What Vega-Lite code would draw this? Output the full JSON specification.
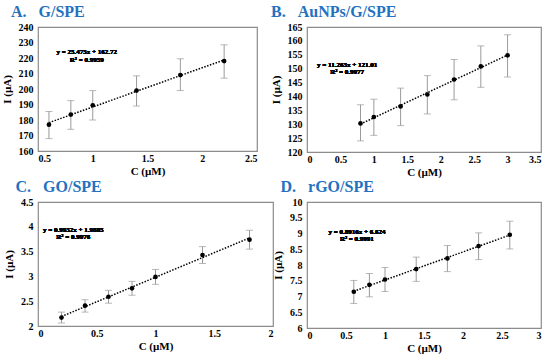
{
  "$schema": "https://vega.github.io/schema/vega-lite/v6.json",
  "background": "white",
  "padding": {"left": 0, "top": 3, "right": 4, "bottom": 2},
  "datasets": {
    "a": [
      {"x": 0.6, "y": 177, "lo": 168, "hi": 185.5},
      {"x": 0.8, "y": 183.5, "lo": 174, "hi": 192.5},
      {"x": 1.0, "y": 189.5, "lo": 180, "hi": 199},
      {"x": 1.4, "y": 199, "lo": 189, "hi": 208.5},
      {"x": 1.8, "y": 209, "lo": 199, "hi": 219.5},
      {"x": 2.2, "y": 218, "lo": 207, "hi": 228.5}
    ],
    "b": [
      {"x": 0.8, "y": 130.3, "lo": 124, "hi": 137},
      {"x": 1.0, "y": 132.6, "lo": 126, "hi": 139},
      {"x": 1.4, "y": 136.4, "lo": 129.5, "hi": 143},
      {"x": 1.8, "y": 140.7, "lo": 133.7, "hi": 147.5},
      {"x": 2.2, "y": 146.1, "lo": 138.8, "hi": 153.3},
      {"x": 2.6, "y": 150.8, "lo": 143.3, "hi": 158.2},
      {"x": 3.0, "y": 154.8, "lo": 147, "hi": 162.2}
    ],
    "c": [
      {"x": 0.2, "y": 2.17, "lo": 2.06, "hi": 2.28},
      {"x": 0.4, "y": 2.41, "lo": 2.28, "hi": 2.53},
      {"x": 0.6, "y": 2.59, "lo": 2.46, "hi": 2.72},
      {"x": 0.8, "y": 2.76, "lo": 2.62, "hi": 2.9},
      {"x": 1.0, "y": 2.99, "lo": 2.84, "hi": 3.14},
      {"x": 1.4, "y": 3.43, "lo": 3.26, "hi": 3.6},
      {"x": 1.8, "y": 3.74, "lo": 3.55, "hi": 3.93}
    ],
    "d": [
      {"x": 0.6, "y": 7.15, "lo": 6.78, "hi": 7.51},
      {"x": 0.8, "y": 7.37, "lo": 6.99, "hi": 7.73},
      {"x": 1.0, "y": 7.54, "lo": 7.16, "hi": 7.92},
      {"x": 1.4, "y": 7.87, "lo": 7.48, "hi": 8.25},
      {"x": 1.8, "y": 8.21, "lo": 7.79, "hi": 8.62},
      {"x": 2.2, "y": 8.6, "lo": 8.17, "hi": 9.02},
      {"x": 2.6, "y": 8.96, "lo": 8.51, "hi": 9.39}
    ]
  },
  "config": {
    "view": {"stroke": "#8c8c8c", "strokeWidth": 1.2},
    "font": "'Liberation Serif', serif",
    "text": {"font": "'Liberation Serif', serif"},
    "axis": {
      "grid": false, "ticks": false, "domain": false, "format": "~f",
      "labelFont": "'Liberation Serif', serif", "labelFontWeight": "bold", "labelFontSize": 10, "labelColor": "black",
      "titleFont": "'Liberation Serif', serif", "titleFontWeight": "bold", "titleFontSize": 11, "titleColor": "black"
    },
    "axisY": {"titlePadding": 6, "labelPadding": 5},
    "axisX": {"titlePadding": 2, "labelPadding": 2},
    "title": {"font": "'Liberation Serif', serif", "fontSize": 16, "fontWeight": "bold", "color": "#2471c0", "anchor": "start", "offset": 2}
  },
  "spacing": 0,
  "vconcat": [
    {
      "spacing": 50,
      "bounds": "flush",
      "hconcat": [
        {
          "width": 219, "height": 124,
          "title": {"text": "A.\u00a0\u00a0\u00a0G/SPE", "dx": 10},
          "data": {"name": "a"},
          "encoding": {
            "x": {"field": "x", "type": "quantitative", "title": "C (µM)", "scale": {"domain": [0.5, 2.5], "nice": false, "zero": false}, "axis": {"values": [0.5, 1, 1.5, 2, 2.5]}},
            "y": {"field": "y", "type": "quantitative", "title": "I (µA)", "scale": {"domain": [160, 240], "nice": false, "zero": false}, "axis": {"values": [160, 170, 180, 190, 200, 210, 220, 230, 240]}}
          },
          "layer": [
            {"transform": [{"regression": "y", "on": "x"}], "mark": {"type": "line", "color": "black", "strokeDash": [1.5, 1.5], "strokeWidth": 1.5}},
            {"mark": {"type": "errorbar", "color": "#9a9a9a", "ticks": {"size": 7, "color": "#9a9a9a"}}, "encoding": {"y": {"field": "lo", "type": "quantitative"}, "y2": {"field": "hi"}}},
            {"mark": {"type": "point", "filled": true, "color": "black", "size": 22, "opacity": 1}},
            {"mark": {"type": "text", "fontWeight": "bold", "fontSize": 7, "lineBreak": "\n", "align": "center", "baseline": "middle", "lineHeight": 7.5}, "encoding": {"x": {"datum": 0.945}, "y": {"datum": 223.7}, "text": {"value": "y = 25.475x + 162.72\nR² = 0.9959"}}}
          ]
        },
        {
          "width": 234, "height": 125,
          "title": {"text": "B.\u00a0\u00a0\u00a0AuNPs/G/SPE", "dx": 1},
          "data": {"name": "b"},
          "encoding": {
            "x": {"field": "x", "type": "quantitative", "title": "C (µM)", "scale": {"domain": [0, 3.5], "nice": false, "zero": false}, "axis": {"values": [0, 0.5, 1, 1.5, 2, 2.5, 3, 3.5]}},
            "y": {"field": "y", "type": "quantitative", "title": "I (µA)", "scale": {"domain": [120, 165], "nice": false, "zero": false}, "axis": {"values": [120, 125, 130, 135, 140, 145, 150, 155, 160, 165]}}
          },
          "layer": [
            {"transform": [{"regression": "y", "on": "x"}], "mark": {"type": "line", "color": "black", "strokeDash": [1.5, 1.5], "strokeWidth": 1.5}},
            {"mark": {"type": "errorbar", "color": "#9a9a9a", "ticks": {"size": 7, "color": "#9a9a9a"}}, "encoding": {"y": {"field": "lo", "type": "quantitative"}, "y2": {"field": "hi"}}},
            {"mark": {"type": "point", "filled": true, "color": "black", "size": 22, "opacity": 1}},
            {"mark": {"type": "text", "fontWeight": "bold", "fontSize": 7, "lineBreak": "\n", "align": "center", "baseline": "middle", "lineHeight": 7.5}, "encoding": {"x": {"datum": 0.6}, "y": {"datum": 151.5}, "text": {"value": "y = 11.263x + 121.01\nR² = 0.9977"}}}
          ]
        }
      ]
    },
    {
      "spacing": 34,
      "bounds": "flush",
      "hconcat": [
        {
          "width": 235, "height": 124,
          "title": {"text": "C.\u00a0\u00a0\u00a0GO/SPE", "dx": 12},
          "data": {"name": "c"},
          "encoding": {
            "x": {"field": "x", "type": "quantitative", "title": "C (µM)", "scale": {"domain": [0, 2], "nice": false, "zero": false}, "axis": {"values": [0, 0.5, 1, 1.5, 2]}},
            "y": {"field": "y", "type": "quantitative", "title": "I (µA)", "scale": {"domain": [2, 4.5], "nice": false, "zero": false}, "axis": {"values": [2, 2.5, 3, 3.5, 4, 4.5]}}
          },
          "layer": [
            {"transform": [{"regression": "y", "on": "x"}], "mark": {"type": "line", "color": "black", "strokeDash": [1.5, 1.5], "strokeWidth": 1.5}},
            {"mark": {"type": "errorbar", "color": "#9a9a9a", "ticks": {"size": 7, "color": "#9a9a9a"}}, "encoding": {"y": {"field": "lo", "type": "quantitative"}, "y2": {"field": "hi"}}},
            {"mark": {"type": "point", "filled": true, "color": "black", "size": 22, "opacity": 1}},
            {"mark": {"type": "text", "fontWeight": "bold", "fontSize": 7, "lineBreak": "\n", "align": "center", "baseline": "middle", "lineHeight": 7.5}, "encoding": {"x": {"datum": 0.3}, "y": {"datum": 3.945}, "text": {"value": "y = 0.9932x + 1.9885\nR² = 0.9976"}}}
          ]
        },
        {
          "width": 234, "height": 126,
          "title": {"text": "D.\u00a0\u00a0\u00a0rGO/SPE", "dx": 8},
          "data": {"name": "d"},
          "encoding": {
            "x": {"field": "x", "type": "quantitative", "title": "C (µM)", "scale": {"domain": [0, 3], "nice": false, "zero": false}, "axis": {"values": [0, 0.5, 1, 1.5, 2, 2.5, 3]}},
            "y": {"field": "y", "type": "quantitative", "title": "I (µA)", "scale": {"domain": [6, 10], "nice": false, "zero": false}, "axis": {"values": [6, 6.5, 7, 7.5, 8, 8.5, 9, 9.5, 10]}}
          },
          "layer": [
            {"transform": [{"regression": "y", "on": "x"}], "mark": {"type": "line", "color": "black", "strokeDash": [1.5, 1.5], "strokeWidth": 1.5}},
            {"mark": {"type": "errorbar", "color": "#9a9a9a", "ticks": {"size": 7, "color": "#9a9a9a"}}, "encoding": {"y": {"field": "lo", "type": "quantitative"}, "y2": {"field": "hi"}}},
            {"mark": {"type": "point", "filled": true, "color": "black", "size": 22, "opacity": 1}},
            {"mark": {"type": "text", "fontWeight": "bold", "fontSize": 7, "lineBreak": "\n", "align": "center", "baseline": "middle", "lineHeight": 7.5}, "encoding": {"x": {"datum": 0.64}, "y": {"datum": 9.06}, "text": {"value": "y = 0.8916x + 6.624\nR² = 0.9991"}}}
          ]
        }
      ]
    }
  ]
}
